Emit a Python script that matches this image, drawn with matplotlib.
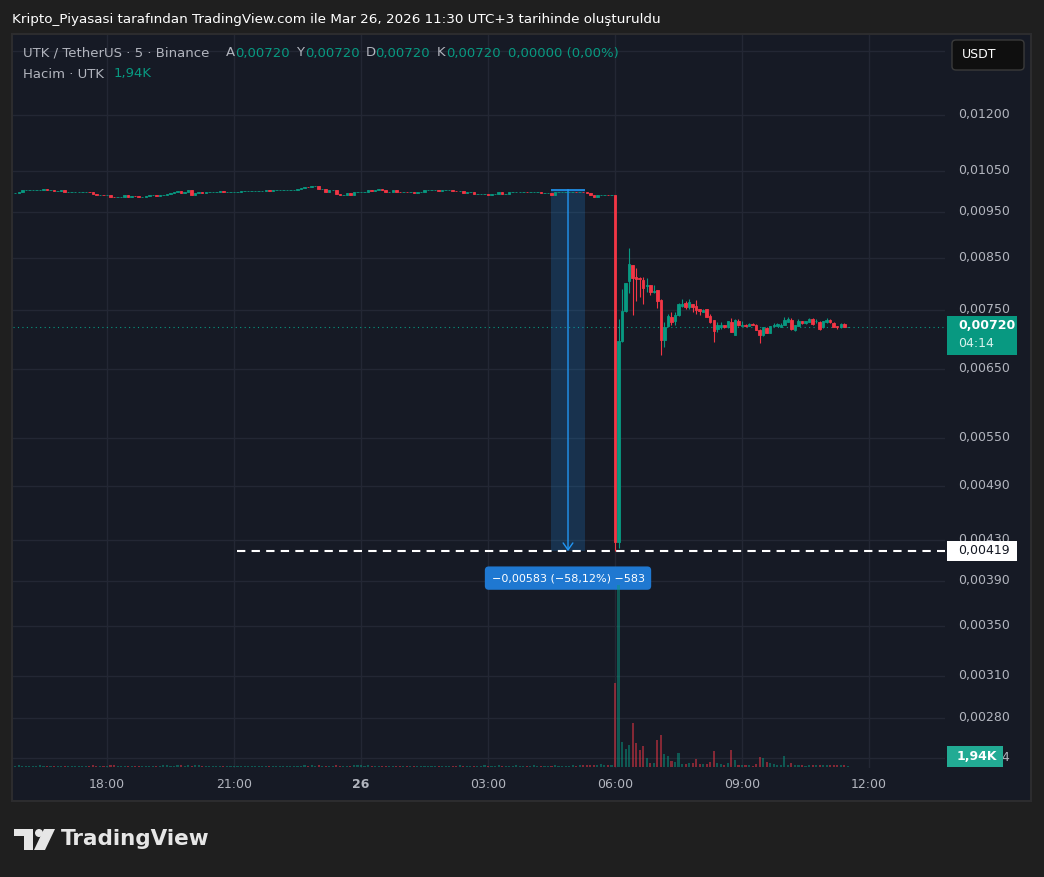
import matplotlib.pyplot as plt
import numpy as np
from matplotlib.patches import Rectangle, FancyBboxPatch, Polygon, Ellipse
from matplotlib.ticker import FixedLocator, NullLocator, FuncFormatter
from matplotlib.transforms import ScaledTranslation

# --- Data: UTK / TetherUS, 5 min candles, Binance ---
# hours from 26 Mar 00:00 (UTC+3); first candle 25 Mar 15:50
start_hour = -8 - 10 / 60

# before the crash the candles are tiny, so only closes are kept (open = previous close)
pre_close = [
    0.00994, 0.00996, 0.01001, 0.01001, 0.01001, 0.01001, 0.01001, 0.01002, 0.01005, 0.01001,
    0.01001, 0.01000, 0.01000, 0.01001, 0.00997, 0.00997, 0.00997, 0.00997, 0.00997, 0.00997,
    0.00997, 0.00996, 0.00993, 0.00991, 0.00991, 0.00990, 0.00990, 0.00986, 0.00984, 0.00985,
    0.00986, 0.00991, 0.00986, 0.00988, 0.00987, 0.00986, 0.00986, 0.00987, 0.00990, 0.00990,
    0.00988, 0.00989, 0.00989, 0.00993, 0.00994, 0.00996, 0.00999, 0.00994, 0.00997, 0.01001,
    0.00991, 0.00994, 0.00997, 0.00994, 0.00997, 0.00997, 0.00997, 0.00997, 0.00999, 0.00997,
    0.00997, 0.00998, 0.00998, 0.00998, 0.00999, 0.00999, 0.00999, 0.00999, 0.01000, 0.01000,
    0.01000, 0.01001, 0.01000, 0.01001, 0.01002, 0.01002, 0.01002, 0.01002, 0.01002, 0.01002,
    0.01004, 0.01006, 0.01010, 0.01009, 0.01012, 0.01012, 0.01004, 0.01004, 0.00998, 0.01002,
    0.01002, 0.00993, 0.00990, 0.00991, 0.00994, 0.00990, 0.00996, 0.00997, 0.00997, 0.00998,
    0.01002, 0.00999, 0.01002, 0.01004, 0.01001, 0.00998, 0.00998, 0.01002, 0.00998, 0.00996,
    0.00998, 0.00996, 0.00996, 0.00994, 0.00996, 0.00998, 0.01001, 0.01001, 0.01001, 0.01001,
    0.00999, 0.01001, 0.01001, 0.01001, 0.01000, 0.00999, 0.00999, 0.00994, 0.00996, 0.00996,
    0.00993, 0.00993, 0.00993, 0.00993, 0.00991, 0.00993, 0.00993, 0.00996, 0.00993, 0.00993,
    0.00996, 0.00996, 0.00996, 0.00998, 0.00998, 0.00996, 0.00996, 0.00996, 0.00996, 0.00994,
    0.00994, 0.00994, 0.00991, 0.00996, 0.00996, 0.00996, 0.00998, 0.00998, 0.00998, 0.00996,
    0.00998, 0.00996, 0.00994, 0.00991, 0.00986, 0.00990, 0.00990, 0.00991, 0.00990, 0.00990,
]
pre_volume = [  # thousands UTK
    2.0, 3.2, 2.0, 2.4, 2.0, 1.6, 2.4, 3.2, 2.4, 2.0, 2.0, 1.6, 2.4, 2.0, 2.0, 1.6, 2.0, 2.4, 2.0, 1.6,
    2.4, 2.0, 3.2, 2.4, 2.0, 2.0, 2.4, 3.2, 3.2, 2.4, 2.0, 2.4, 2.4, 1.6, 2.0, 2.0, 1.6, 2.0, 2.0, 2.4,
    2.0, 2.4, 3.2, 3.2, 2.4, 2.4, 3.2, 3.2, 2.4, 3.2, 2.4, 3.2, 3.2, 2.4, 2.4, 2.0, 2.4, 2.4, 2.0, 2.0,
    2.4, 2.0, 2.0, 2.4, 2.0, 1.6, 2.0, 2.0, 2.4, 2.0, 2.0, 1.6, 2.0, 2.4, 2.0, 2.0, 2.4, 2.0, 2.0, 2.4,
    2.0, 2.4, 3.2, 2.4, 3.2, 2.4, 3.2, 2.4, 2.4, 2.0, 2.4, 3.2, 2.4, 2.4, 2.0, 2.4, 3.2, 3.2, 3.2, 2.4,
    3.2, 2.4, 2.4, 2.0, 2.4, 2.0, 2.4, 2.4, 2.0, 2.0, 2.4, 2.0, 2.4, 2.0, 2.0, 2.4, 2.4, 2.0, 2.4, 2.0,
    2.0, 2.4, 2.0, 2.4, 2.4, 2.0, 4.0, 2.4, 2.4, 2.0, 2.4, 2.4, 2.0, 3.2, 2.4, 2.0, 2.4, 3.2, 2.4, 2.4,
    2.0, 2.4, 3.2, 2.4, 2.0, 2.4, 2.4, 3.2, 2.4, 2.0, 2.4, 2.0, 2.4, 3.2, 2.4, 2.4, 2.0, 2.4, 3.2, 2.4,
    3.2, 3.2, 4.0, 3.2, 4.0, 3.2, 4.8, 4.0, 3.2, 3.2,
]

# from 06:00 to 11:30
post_open = [
    0.00990, 0.00428, 0.00696, 0.00748, 0.00804, 0.00836, 0.00812, 0.00810, 0.00806, 0.00794,
    0.00797, 0.00784, 0.00787, 0.00768, 0.00698, 0.00722, 0.00738, 0.00730, 0.00741, 0.00757,
    0.00762, 0.00755, 0.00761, 0.00757, 0.00751, 0.00747, 0.00751, 0.00740, 0.00732, 0.00716,
    0.00720, 0.00723, 0.00719, 0.00729, 0.00706, 0.00731, 0.00722, 0.00724, 0.00722, 0.00725,
    0.00724, 0.00715, 0.00706, 0.00718, 0.00710, 0.00721, 0.00722, 0.00720, 0.00724, 0.00729,
    0.00732, 0.00714, 0.00722, 0.00730, 0.00726, 0.00729, 0.00734, 0.00730, 0.00729, 0.00719,
    0.00728, 0.00732, 0.00727, 0.00721, 0.00719, 0.00725, 0.00720,
]
post_high = [
    0.00990, 0.00734, 0.00789, 0.00801, 0.00871, 0.00836, 0.00830, 0.00812, 0.00812, 0.00810,
    0.00797, 0.00797, 0.00787, 0.00771, 0.00728, 0.00742, 0.00746, 0.00747, 0.00762, 0.00771,
    0.00767, 0.00770, 0.00761, 0.00768, 0.00751, 0.00752, 0.00752, 0.00743, 0.00732, 0.00729,
    0.00728, 0.00724, 0.00731, 0.00735, 0.00734, 0.00733, 0.00730, 0.00725, 0.00727, 0.00726,
    0.00725, 0.00716, 0.00720, 0.00719, 0.00722, 0.00726, 0.00727, 0.00726, 0.00737, 0.00737,
    0.00735, 0.00724, 0.00734, 0.00731, 0.00731, 0.00735, 0.00736, 0.00733, 0.00730, 0.00731,
    0.00735, 0.00733, 0.00728, 0.00722, 0.00726, 0.00726, 0.00720,
]
post_low = [
    0.00419, 0.00422, 0.00694, 0.00747, 0.00782, 0.00741, 0.00767, 0.00774, 0.00761, 0.00784,
    0.00778, 0.00781, 0.00754, 0.00672, 0.00686, 0.00720, 0.00723, 0.00723, 0.00740, 0.00755,
    0.00752, 0.00751, 0.00746, 0.00743, 0.00741, 0.00746, 0.00737, 0.00726, 0.00695, 0.00712,
    0.00716, 0.00718, 0.00718, 0.00712, 0.00706, 0.00722, 0.00721, 0.00720, 0.00721, 0.00723,
    0.00714, 0.00693, 0.00704, 0.00709, 0.00709, 0.00720, 0.00721, 0.00719, 0.00723, 0.00728,
    0.00715, 0.00713, 0.00721, 0.00725, 0.00725, 0.00728, 0.00724, 0.00726, 0.00715, 0.00718,
    0.00727, 0.00727, 0.00719, 0.00717, 0.00718, 0.00719, 0.00720,
]
post_close = [
    0.00428, 0.00696, 0.00748, 0.00800, 0.00838, 0.00811, 0.00808, 0.00808, 0.00791, 0.00797,
    0.00784, 0.00786, 0.00767, 0.00698, 0.00720, 0.00740, 0.00729, 0.00741, 0.00761, 0.00761,
    0.00755, 0.00764, 0.00755, 0.00750, 0.00748, 0.00750, 0.00737, 0.00729, 0.00713, 0.00723,
    0.00724, 0.00719, 0.00730, 0.00712, 0.00732, 0.00723, 0.00724, 0.00722, 0.00725, 0.00724,
    0.00715, 0.00706, 0.00719, 0.00710, 0.00721, 0.00723, 0.00725, 0.00724, 0.00732, 0.00734,
    0.00716, 0.00723, 0.00730, 0.00726, 0.00730, 0.00734, 0.00725, 0.00731, 0.00716, 0.00730,
    0.00732, 0.00728, 0.00720, 0.00720, 0.00725, 0.00720, 0.00720,
]
post_volume = [
    134.4, 291.0, 40.0, 29.0, 35.0, 70.0, 38.0, 27.0, 34.0, 14.4,
    6.4, 6.4, 43.0, 51.0, 21.0, 18.0, 9.6, 8.0, 22.0, 4.8,
    4.8, 6.4, 6.4, 13.0, 4.8, 4.8, 4.8, 8.0, 26.0, 6.4,
    4.8, 3.2, 6.4, 27.0, 11.0, 3.2, 3.2, 3.2, 3.2, 1.6,
    4.8, 16.0, 14.4, 8.0, 6.4, 4.8, 3.2, 3.2, 18.0, 3.2,
    6.4, 3.2, 3.2, 3.2, 1.6, 3.2, 3.2, 3.2, 3.2, 3.2,
    3.2, 3.2, 3.2, 3.2, 3.2, 3.2, 1.94,
]

# the 0.01400 line has its label hidden under the currency button in the reference
price_ticks = [0.01400, 0.01200, 0.01050, 0.00950, 0.00850, 0.00750, 0.00650,
               0.00550, 0.00490, 0.00430, 0.00390, 0.00350, 0.00310, 0.00280, 0.00254]
hidden_ticks = [0.01400]
time_ticks = [-6, -3, 0, 3, 6, 9, 12]
time_labels = ["18:00", "21:00", "26", "03:00", "06:00", "09:00", "12:00"]

level_price = 0.00419          # horizontal line drawing
level_start = -2.93            # it starts around 21:05
measure_top = 0.01003          # price range tool
measure_start, measure_end = 4.50, 5.28
measure_text = "\u22120,00583 (\u221258,12%) \u2212583"
countdown = "04:14"

# --- build candles ---
opens = np.array([pre_close[0]] + pre_close[:-1] + post_open)
closes = np.array(pre_close + post_close)
highs = np.array([max(o, c) for o, c in zip(opens[:len(pre_close)], pre_close)] + post_high)
lows = np.array([min(o, c) for o, c in zip(opens[:len(pre_close)], pre_close)] + post_low)
volume = np.array(pre_volume + post_volume)
t = start_hour + np.arange(len(closes)) / 12

UP, DOWN = "#089981", "#f23645"
is_up = closes >= opens
colors = np.where(is_up, UP, DOWN)

def fmt(v):
    return f"{v:.5f}".replace(".", ",")

def tick_fmt(v, pos):
    if any(abs(v - h) < 1e-7 for h in hidden_ticks):
        return ""
    return fmt(v)

# --- figure / layout (pixel based) ---
W, H = 1044, 877
AX_L, AX_R, AX_T, AX_B = 13, 945, 35, 768
VOL_K_PER_PX = 1.6

plt.rcParams["font.family"] = "DejaVu Sans"
fig = plt.figure(figsize=(W / 100, H / 100), dpi=100)
fig.patch.set_facecolor("#1f1f1f")

def P(x, y):
    return (x / W, 1 - y / H)

fig.add_artist(Rectangle(P(12, 801), (1031 - 12) / W, (801 - 34) / H, transform=fig.transFigure,
                         fc="#161a25", ec="#2c2c2e", lw=1.5, zorder=-1))

ax = fig.add_axes([AX_L / W, 1 - AX_B / H, (AX_R - AX_L) / W, (AX_B - AX_T) / H])
ax.patch.set_visible(False)
ax.set_yscale("log")
ax.set_ylim(0.002482, 0.014567)
ax.set_xlim(-8.22, 13.795)

# volume overlay on its own linear scale
vax = ax.twinx()
vax.set_ylim(-VOL_K_PER_PX, (AX_B - AX_T - 1) * VOL_K_PER_PX)
vax.bar(t, volume, width=0.6 / 12, color=colors, alpha=0.5, lw=0)
vax.set_yticks([])
for s in vax.spines.values():
    s.set_visible(False)

# candles
ax.vlines(t, lows, highs, colors=colors, lw=0.8, zorder=3)
ax.bar(t, np.abs(closes - opens), bottom=np.minimum(opens, closes), width=0.7 / 12,
       color=colors, edgecolor=colors, linewidth=0.6, zorder=4)

ax.yaxis.tick_right()
ax.yaxis.set_major_locator(FixedLocator(price_ticks))
ax.yaxis.set_minor_locator(NullLocator())
ax.yaxis.set_major_formatter(FuncFormatter(tick_fmt))
ax.set_xticks(time_ticks, time_labels)
ax.set_axisbelow(True)
ax.grid(True, color="#232734", lw=1)
ax.tick_params(axis="both", length=0, colors="#b2b5be", labelsize=9)
ax.tick_params(axis="y", pad=9.4)
ax.tick_params(axis="x", pad=7.5)
# price labels sit a little above their grid line
lift = ScaledTranslation(0, 0.02, fig.dpi_scale_trans)
for tick in ax.yaxis.get_major_ticks():
    tick.label2.set_transform(tick.label2.get_transform() + lift)
for lbl in ax.get_xticklabels():
    if lbl.get_text() == "26":
        lbl.set_fontweight("bold")
for s in ax.spines.values():
    s.set_visible(False)

# last price dotted line
ax.axhline(closes[-1], color=UP, lw=0.8, ls=(0, (1, 3)), zorder=2)

# price range measurement
mid = (measure_start + measure_end) / 2
ax.add_patch(Rectangle((measure_start, level_price), measure_end - measure_start,
                       measure_top - level_price, fc="#2196f3", alpha=0.2, lw=0, zorder=2))
ax.hlines(measure_top, measure_start, measure_end, colors="#2196f3", lw=1.2, zorder=5)
ax.annotate("", xy=(mid, level_price), xytext=(mid, measure_top),
            arrowprops=dict(arrowstyle="->,head_length=0.5,head_width=0.35", color="#2196f3",
                            lw=1, shrinkA=0, shrinkB=0), zorder=5)
ax.annotate(measure_text, xy=(mid, level_price), xytext=(0, -27), textcoords="offset pixels",
            ha="center", va="center", color="white", fontsize=8,
            bbox=dict(boxstyle="round,pad=0.6,rounding_size=0.35", fc="#1f78d1", ec="none"),
            zorder=8)

# horizontal level
ax.hlines(level_price, level_start, 13.795, colors="white", lw=1.5, linestyles=(0, (4, 3)), zorder=6)

def py(price):
    return H - ax.transData.transform((0, price))[1]

# right scale labels
yc = py(closes[-1])
fig.add_artist(Rectangle(P(947, yc + 28), 70 / W, 39 / H, transform=fig.transFigure,
                         fc=UP, ec="none", zorder=5))
fig.text(*P(958, yc - 1), fmt(closes[-1]), color="white", fontsize=9, fontweight="bold",
         va="center", zorder=6)
fig.text(*P(958, yc + 17), countdown, color="#d8f2ed", fontsize=9, va="center", zorder=6)

yl = py(level_price)
fig.add_artist(Rectangle(P(947, yl + 10), 70 / W, 20 / H, transform=fig.transFigure,
                         fc="white", ec="none", zorder=5))
fig.text(*P(958, yl - 0.5), fmt(level_price), color="#131722", fontsize=9, va="center", zorder=6)

vol_txt = f"{volume[-1]:.2f}".replace(".", ",") + "K"
fig.add_artist(Rectangle(P(947, 767), 56 / W, 21 / H, transform=fig.transFigure,
                         fc="#22ab94", ec="none", zorder=5))
fig.text(*P(957, 756.5), vol_txt, color="white", fontsize=9, fontweight="bold", va="center", zorder=6)

# currency button
fig.add_artist(FancyBboxPatch(P(952, 70), 72 / W, 30 / H, boxstyle="round,pad=0,rounding_size=0.004",
                              transform=fig.transFigure, fc="#0f0f0f", ec="#3a3a3a", lw=1, zorder=5))
fig.text(*P(962, 55), "USDT", color="white", fontsize=9, va="center", zorder=6)

# header
fig.text(*P(12, 19), "Kripto_Piyasasi tarafından TradingView.com ile Mar 26, 2026 11:30 UTC+3 "
         "tarihinde oluşturuldu", color="white", fontsize=9.7, va="center")
GREY = "#b2b5be"
fig.text(*P(23, 53), "UTK / TetherUS · 5 · Binance", color=GREY, fontsize=9.5, va="center")
chg = closes[-1] - opens[-1]
legend = [("A", opens[-1]), ("Y", highs[-1]), ("D", lows[-1]), ("K", closes[-1])]
xs = [226, 296, 366, 437]
for (k, v), x in zip(legend, xs):
    fig.text(*P(x, 53), k, color=GREY, fontsize=9.5, va="center")
    fig.text(*P(x + 9, 53), fmt(v), color=UP, fontsize=9.5, va="center")
fig.text(*P(508, 53), f"{fmt(chg)} ({chg / opens[-1] * 100:.2f}%)".replace(".", ","),
         color=UP, fontsize=9.5, va="center")
fig.text(*P(23, 74), "Hacim · UTK", color=GREY, fontsize=9.5, va="center")
fig.text(*P(114, 74), vol_txt, color=UP, fontsize=9.5, va="center")

# TradingView logo
logo = "#e6e6e6"
fig.add_artist(Polygon([P(14, 829), P(33, 829), P(33, 850), P(24, 850), P(24, 836), P(14, 836)],
                       closed=True, transform=fig.transFigure, fc=logo, ec="none"))
fig.add_artist(Ellipse(P(39, 833), 8 / W, 8 / H, transform=fig.transFigure, fc=logo, ec="none"))
fig.add_artist(Polygon([P(44, 829), P(55, 829), P(45, 850), P(34, 850)],
                       closed=True, transform=fig.transFigure, fc=logo, ec="none"))
fig.text(*P(61, 839), "TradingView", color=logo, fontsize=15.5, fontweight="bold", va="center")

fig.savefig("out.png", dpi=100, facecolor=fig.get_facecolor())
